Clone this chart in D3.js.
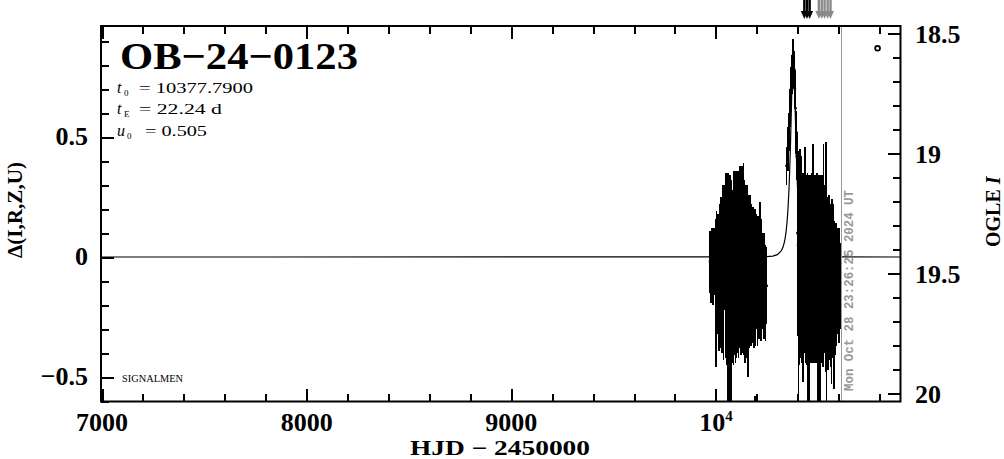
<!DOCTYPE html>
<html><head><meta charset="utf-8">
<script src="https://cdn.jsdelivr.net/npm/d3@7"></script>
<style>html,body{margin:0;padding:0;background:#fff;}svg{display:block;}</style>
</head><body><svg id="c" width="1004" height="459"></svg>
<script>
// ---------------- data ----------------
const eventName = "OB\u221224\u22120123";
const paramT0 = "10377.7900";
const paramTE = "22.24 d";
const paramU0 = "0.505";
const xTitle = "HJD \u2212 2450000";
const yTitleLeft = "\u0394(I,R,Z,U)";
const dateStamp = "Mon Oct 28 23:26:25 2024 UT";
const nowT = 10612.48;
const baselineMag = 19.433;

const xMajorTicks = [7000, 8000, 9000, 10000];
const xTickLabels = ["7000", "8000", "9000", "10"];
const xMinorTicks = [7200,7400,7600,7800,8200,8400,8600,8800,9200,9400,9600,9800,10200,10400,10600,10800];
const yMajorTicks = [-0.5, 0, 0.5];
const yTickLabels = ["\u22120.5", "0", "0.5"];
const yMinorTicks = [-0.6,-0.4,-0.3,-0.2,-0.1,0.1,0.2,0.3,0.4,0.6,0.7,0.8,0.9];
const magMajorTicks = [18.5, 19, 19.5, 20];
const magTickLabels = ["18.5", "19", "19.5", "20"];
const magMinorTicks = [18.6,18.7,18.8,18.9,19.1,19.2,19.3,19.4,19.6,19.7,19.8,19.9];

// model curve (t, delta mag)
const modelT = [6995,10180,10230,10278,10300,10318,10328,10333,10338,10343,10348,10353,10358,10360,10363,10365,10368,10370,10373,10375,10378,10380,10383,10385,10388,10390,10393,10395,10398,10403,10408,10413,10418,10423,10428,10438,10458,10478,10530,10580,10902];
const modelD = [0,0.0003,0.0009,0.004,0.010,0.024,0.042,0.057,0.077,0.107,0.150,0.212,0.302,0.35,0.427,0.49,0.590,0.66,0.758,0.81,0.838,0.82,0.758,0.69,0.590,0.52,0.427,0.37,0.302,0.212,0.150,0.107,0.077,0.057,0.042,0.024,0.009,0.004,0.0009,0.0003,0];

// observations [t, delta, error]
const season1 = [
[9971,-0.02,0.13],[9975,-0.04,0.15],[9979,0.00,0.12],[9983,-0.03,0.15],[9987,-0.08,0.12],[9992,-0.02,0.14],
[9997,-0.74,0.19],[9999,-0.15,0.31],[10003,0.02,0.17],[10006,-0.08,0.24],[10010,-0.06,0.24],[10014,-0.12,0.27],
[10018,0.00,0.22],[10022,-0.08,0.30],[10026,0.05,0.20],[10030,-0.10,0.30],[10034,0.02,0.28],[10038,-0.14,0.29],
[10042,0.04,0.26],[10046,-0.06,0.36],[10050,0.02,0.33],[10053,-0.15,0.30],[10056,-0.20,0.40],[10059,0.05,0.30],
[10062,-0.08,0.32],[10065,-0.25,0.37],[10068,0.03,0.31],[10071,-0.10,0.33],[10074,-0.20,0.42],[10077,0.02,0.30],
[10080,-0.08,0.36],[10083,-0.02,0.30],[10086,-0.12,0.33],[10089,0.05,0.31],[10092,-0.05,0.36],[10095,-0.16,0.28],
[10098,0.02,0.34],[10101,-0.10,0.32],[10104,-0.03,0.37],[10107,0.06,0.30],[10110,-0.12,0.30],[10113,-0.02,0.36],
[10116,-0.07,0.30],[10119,0.04,0.34],[10122,-0.10,0.31],[10125,-0.05,0.36],[10128,0.05,0.33],[10131,-0.08,0.32],
[10134,0.06,0.33],[10137,-0.06,0.35],[10140,0.02,0.30],[10143,-0.12,0.32],[10146,0.00,0.30],[10149,-0.06,0.36],
[10152,0.02,0.28],[10155,-0.08,0.30],[10158,-0.15,0.35],[10161,-0.04,0.30],[10164,-0.10,0.28],[10167,0.00,0.26],
[10170,-0.10,0.27],[10174,-0.04,0.26],[10178,-0.08,0.28],[10182,-0.02,0.23],[10186,-0.12,0.26],[10190,-0.05,0.25],
[10191,-0.78,0.20],[10194,-0.10,0.27],[10199,-0.06,0.24],[10203,-0.12,0.25],[10207,-0.05,0.22],[10211,-0.10,0.24],
[10215,-0.03,0.26],[10219,-0.12,0.23],[10223,-0.04,0.20],[10227,-0.10,0.20],[10231,-0.08,0.16],[10235,-0.12,0.22],
[10239,-0.10,0.15],[10243,-0.15,0.20],[10248,-0.12,0.16]
];
const peakPoints = [
[10345,0.38,0.08],[10352,0.45,0.09],[10358,0.52,0.08],[10363,0.62,0.08],[10367,0.70,0.09],[10371,0.76,0.08],
[10374,0.82,0.07],[10377,0.84,0.07],[10380,0.83,0.07],[10383,0.78,0.08],[10386,0.70,0.08],[10389,0.62,0.09],
[10392,0.52,0.09],[10395,0.42,0.10]
];
const season2 = [
[10398,0.10,0.35],[10401,0.05,0.38],[10403,-0.25,0.40],[10406,0.08,0.36],[10409,-0.05,0.40],[10412,0.10,0.35],
[10415,-0.10,0.32],[10418,0.02,0.40],[10421,-0.08,0.36],[10424,0.05,0.30],[10427,-0.12,0.40],[10430,0.00,0.35],
[10433,-0.10,0.30],[10436,0.08,0.38],[10439,-0.06,0.38],[10442,0.02,0.32],[10445,-0.15,0.30],[10448,-0.02,0.37],
[10451,-0.20,0.40],[10454,0.03,0.31],[10457,-0.25,0.40],[10460,-0.05,0.38],[10463,0.04,0.30],[10466,-0.10,0.34],
[10469,0.02,0.33],[10472,-0.08,0.36],[10475,0.10,0.37],[10478,-0.12,0.32],[10481,0.00,0.34],[10484,-0.06,0.38],
[10487,0.03,0.31],[10490,-0.10,0.34],[10493,0.01,0.34],[10496,-0.08,0.36],[10499,-0.30,0.40],[10502,0.02,0.32],
[10505,-0.20,0.42],[10508,-0.05,0.39],[10511,-0.28,0.38],[10514,0.04,0.30],[10517,-0.08,0.36],[10520,0.00,0.34],
[10523,-0.12,0.34],[10526,0.10,0.37],[10529,-0.06,0.34],[10532,-0.02,0.32],[10535,-0.10,0.38],[10538,0.08,0.40],
[10541,-0.30,0.35],[10544,-0.05,0.30],[10547,-0.12,0.35],[10550,-0.02,0.28],[10553,-0.10,0.33],[10556,-0.04,0.30],
[10559,-0.12,0.34],[10562,-0.05,0.27],[10565,-0.15,0.38],[10568,-0.06,0.30],[10571,-0.10,0.32],[10574,-0.12,0.25],
[10577,-0.20,0.35],[10580,-0.08,0.22],[10583,-0.14,0.27],[10586,-0.06,0.20],[10589,-0.12,0.25],[10592,-0.08,0.20],
[10595,-0.10,0.22],[10598,-0.06,0.15],[10601,-0.12,0.24],[10604,-0.08,0.16],[10607,-0.12,0.18],[10610,-0.10,0.15]
];
const arrowBlackT = [10432, 10445, 10458];
const arrowGrayT = [10503, 10517, 10531, 10546, 10560];
const circleT = [10790];
const circleD = [0.87];

// ---------------- drawing ----------------
const svg = d3.select('#c');
const L = 101, R = 900.5, T = 26, B = 401.5;
const x = d3.scaleLinear().domain([6995, 10902]).range([L, R]);
const y = d3.scaleLinear().domain([-0.602, 0.9625]).range([B, T]);
const yMag = d3.scaleLinear().domain([baselineMag + 0.602, baselineMag - 0.9625]).range([B, T]);
const SERIF = "'Liberation Serif','Times New Roman',serif";

svg.append('defs').append('clipPath').attr('id','clip')
  .append('rect').attr('x',L).attr('y',T).attr('width',R-L).attr('height',B-T);

const plot = svg.append('g').attr('clip-path','url(#clip)');

// model line
const model = modelT.map((t,i)=>[t, modelD[i]]);
plot.append('path').datum(model)
  .attr('d', d3.line().x(d=>x(d[0])).y(d=>y(d[1])))
  .attr('fill','none').attr('stroke','#000').attr('stroke-width',1.2);

// error bars
const obs = season1.concat(peakPoints, season2);
plot.selectAll('line.eb').data(obs).join('line').attr('class','eb')
  .attr('x1',d=>x(d[0])).attr('x2',d=>x(d[0]))
  .attr('y1',d=>y(d[1]-d[2])).attr('y2',d=>y(d[1]+d[2]))
  .attr('stroke','#000').attr('stroke-width',1.6).attr('shape-rendering','crispEdges');
plot.selectAll('rect.pt').data(obs).join('rect').attr('class','pt')
  .attr('x',d=>x(d[0])-1.2).attr('y',d=>y(d[1])-1.2).attr('width',2.4).attr('height',2.4)
  .attr('fill','#000');

// small circle
plot.selectAll('circle.mk').data(circleT.map((t,i)=>[t,circleD[i]])).join('circle')
  .attr('cx',d=>x(d[0])).attr('cy',d=>y(d[1])).attr('r',2.4)
  .attr('fill','none').attr('stroke','#000').attr('stroke-width',1.8);

// date line
svg.append('line').attr('x1',x(nowT)).attr('x2',x(nowT)).attr('y1',T).attr('y2',B)
  .attr('stroke','#999').attr('stroke-width',1).attr('shape-rendering','crispEdges');
svg.append('text').attr('transform',`translate(${x(nowT)+12},391) rotate(-90)`)
  .attr('font-family',"'Liberation Mono','DejaVu Sans Mono',monospace").attr('font-weight','bold')
  .attr('font-size',12).attr('fill','#999').attr('textLength',201).attr('lengthAdjust','spacingAndGlyphs')
  .text(dateStamp);

// frame
svg.append('rect').attr('x',L).attr('y',T).attr('width',R-L).attr('height',B-T)
  .attr('fill','none').attr('stroke','#000').attr('stroke-width',2);

// axes (inward ticks)
function styleAxis(g){
  g.select('.domain').remove();
  g.selectAll('.tick line').attr('stroke','#000').attr('stroke-width',2).attr('shape-rendering','crispEdges');
  g.selectAll('.tick text').remove();
}
const MAJ = 13, MIN = 8;
svg.append('g').attr('transform',`translate(0,${B})`).call(d3.axisTop(x).tickValues(xMajorTicks).tickSize(MAJ)).call(styleAxis);
svg.append('g').attr('transform',`translate(0,${B})`).call(d3.axisTop(x).tickValues(xMinorTicks).tickSize(MIN)).call(styleAxis);
svg.append('g').attr('transform',`translate(0,${T})`).call(d3.axisBottom(x).tickValues(xMajorTicks).tickSize(MAJ)).call(styleAxis);
svg.append('g').attr('transform',`translate(0,${T})`).call(d3.axisBottom(x).tickValues(xMinorTicks).tickSize(MIN)).call(styleAxis);
svg.append('g').attr('transform',`translate(${L},0)`).call(d3.axisRight(y).tickValues(yMajorTicks).tickSize(MAJ)).call(styleAxis);
svg.append('g').attr('transform',`translate(${L},0)`).call(d3.axisRight(y).tickValues(yMinorTicks).tickSize(MIN)).call(styleAxis);
svg.append('g').attr('transform',`translate(${R},0)`).call(d3.axisLeft(yMag).tickValues(magMajorTicks).tickSize(MAJ)).call(styleAxis);
svg.append('g').attr('transform',`translate(${R},0)`).call(d3.axisLeft(yMag).tickValues(magMinorTicks).tickSize(MIN)).call(styleAxis);

// tick labels
svg.selectAll('text.xl').data(xMajorTicks).join('text').attr('class','xl')
  .attr('x',d=>x(d)).attr('y',431).attr('text-anchor','middle')
  .attr('font-family',SERIF).attr('font-weight','bold').attr('font-size',26)
  .each(function(d,i){
    const s = d3.select(this);
    s.append('tspan').text(xTickLabels[i]);
    if (d === 10000) s.append('tspan').attr('dy',-10).attr('font-size',15).text('4');
  });
svg.selectAll('text.yl').data(yMajorTicks).join('text').attr('class','yl')
  .attr('x',88).attr('y',d=>y(d)+8).attr('text-anchor','end')
  .attr('font-family',SERIF).attr('font-weight','bold').attr('font-size',26)
  .text((d,i)=>yTickLabels[i]);
svg.selectAll('text.ml').data(magMajorTicks).join('text').attr('class','ml')
  .attr('x',915).attr('y',d=>yMag(d)+10).attr('text-anchor','start')
  .attr('font-family',SERIF).attr('font-weight','bold').attr('font-size',26)
  .text((d,i)=>magTickLabels[i]);

// axis titles
svg.append('text').attr('x',500).attr('y',455).attr('text-anchor','middle')
  .attr('font-family',SERIF).attr('font-weight','bold').attr('font-size',21)
  .attr('textLength',180).attr('lengthAdjust','spacingAndGlyphs').text(xTitle);
svg.append('text').attr('transform','translate(22,258) rotate(-90)')
  .attr('font-family',SERIF).attr('font-weight','bold').attr('font-size',21)
  .attr('textLength',96).attr('lengthAdjust','spacingAndGlyphs').text(yTitleLeft);
const rt = svg.append('text').attr('transform','translate(1000,247) rotate(-90)')
  .attr('font-family',SERIF).attr('font-weight','bold').attr('font-size',20);
rt.append('tspan').text('OGLE ');
rt.append('tspan').attr('font-style','italic').text('I');

// title and parameters
svg.append('text').attr('x',120).attr('y',69)
  .attr('font-family',SERIF).attr('font-weight','bold').attr('font-size',38)
  .attr('textLength',238).attr('lengthAdjust','spacingAndGlyphs').text(eventName);

function param(yb, sym, sub, rest, restX, restW){
  svg.append('text').attr('x',117).attr('y',yb).attr('font-family',SERIF).attr('font-style','italic').attr('font-size',16).text(sym);
  svg.append('text').attr('x',sym==='u'?127:124).attr('y',yb+3).attr('font-family',SERIF).attr('font-size',9).text(sub);
  svg.append('text').attr('x',restX).attr('y',yb).attr('font-family',SERIF).attr('font-size',15)
    .attr('textLength',restW).attr('lengthAdjust','spacingAndGlyphs').text(rest);
}
param(93, 't', '0', '= ' + paramT0, 139, 114);
param(114, 't', 'E', '= ' + paramTE, 139, 83);
param(136, 'u', '0', '= ' + paramU0, 145, 62);

svg.append('text').attr('x',122).attr('y',382).attr('font-family',SERIF).attr('font-size',10)
  .attr('textLength',61).attr('lengthAdjust','spacingAndGlyphs').text('SIGNALMEN');

// arrows above the frame
function arrow(t, color){
  const cx = x(t);
  svg.append('rect').attr('x',cx-1.2).attr('y',0).attr('width',2.4).attr('height',13).attr('fill',color);
  svg.append('path').attr('d',`M${cx-3.5},11 L${cx+3.5},11 L${cx},19 Z`).attr('fill',color);
}
arrowBlackT.forEach(t=>arrow(t,'#000'));
arrowGrayT.forEach(t=>arrow(t,'#8a8a8a'));
</script></body></html>
